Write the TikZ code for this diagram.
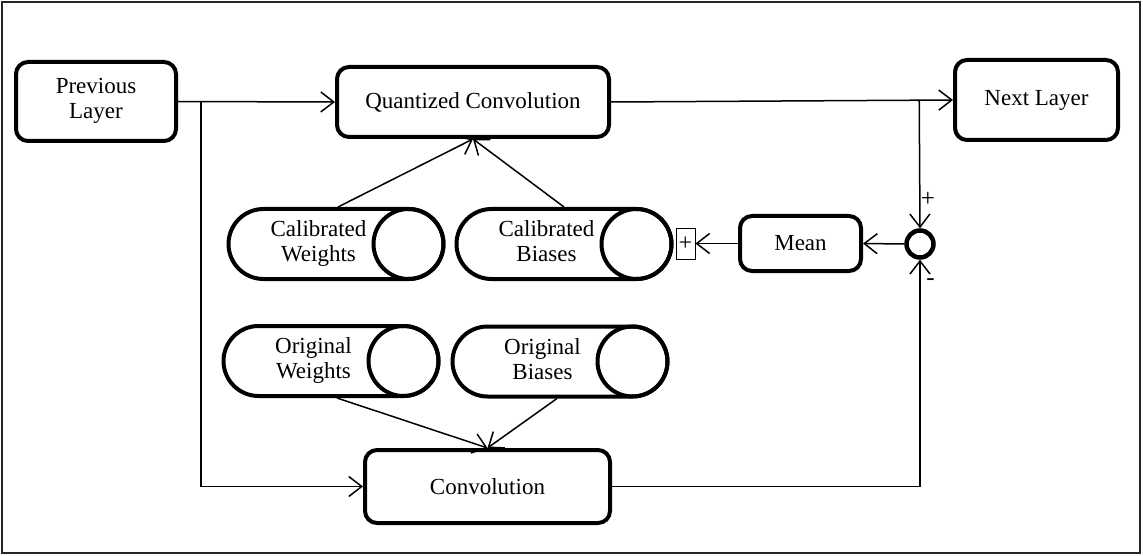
\documentclass[tikz,border=0pt]{standalone}
\usepackage{fontspec}
\setmainfont{Liberation Serif}
\usetikzlibrary{arrows.meta,shapes.misc,calc}
\newcommand{\twoline}[2]{\strut#1\\\strut#2}
\begin{document}
\begin{tikzpicture}[x=1pt,y=-1pt,
  box/.style={draw,line width=4pt,rounded corners=12pt,align=center,inner sep=0pt,font=\fontsize{23}{25}\selectfont},
  store/.style={draw,line width=4pt,rounded rectangle,minimum width=215pt,minimum height=70pt,inner sep=0pt},
  lbl/.style={align=center,inner sep=0pt,font=\fontsize{23}{25}\selectfont},
  arr/.style={line width=1.5pt,-{Straight Barb[length=13pt,width=20pt]}},
  sign/.style={inner sep=0pt,font=\fontsize{25}{27}\selectfont}]
\useasboundingbox (0,0) rectangle (1143,556);
\draw[line width=1.5pt,black!85] (2,2) rectangle (1140,553);

% boxes
\node[box,minimum width=160pt,minimum height=79pt] (prev) at (96,101.5) {\twoline{Previous}{Layer}};
\node[box,minimum width=272pt,minimum height=70pt] (qconv) at (473,102) {Quantized Convolution};
\node[box,minimum width=163pt,minimum height=80pt] (next) at (1036.5,100) {Next Layer};
\node[box,minimum width=121pt,minimum height=55pt] (mean) at (800.5,243.5) {Mean};
\node[box,minimum width=245pt,minimum height=73pt] (conv) at (487.5,486.5) {Convolution};
\node[draw,circle,line width=4.5pt,minimum size=27pt,inner sep=0pt] (sum) at (920,244) {};
\node[draw,line width=0.8pt,minimum width=19pt,minimum height=31pt,inner sep=0pt,font=\fontsize{24}{26}\selectfont] (pbox) at (685.5,243.5) {+};

% stores
\node[store] (cw) at (336,244) {};
\node[store] (cb) at (564,244) {};
\node[store] (ow) at (331,361) {};
\node[store] (ob) at (560,361.5) {};
\foreach \s in {cw,cb,ow,ob}{
  \draw[line width=4pt] ($(\s.center)+(72.5,0)$) circle[radius=35pt];
}
\node[lbl] (cwt) at ($(cw.center)+(-17.5,0)$) {\twoline{Calibrated}{Weights}};
\node[lbl] (cbt) at ($(cb.center)+(-17.5,0)$) {\twoline{Calibrated}{Biases}};
\node[lbl] (owt) at ($(ow.center)+(-17.5,0)$) {\twoline{Original}{Weights}};
\node[lbl] (obt) at ($(ob.center)+(-17.5,0)$) {\twoline{Original}{Biases}};

% signs
\node[sign] (splus) at (928,199) {+};
\node[sign] (sminus) at (930.5,282) {-};

% connectors
\draw[arr] (prev.east) -- (qconv.west);
\coordinate (b1) at ([xshift=23pt]prev.east);
\draw[arr] (b1) |- (conv.west);
\draw[arr] (qconv.east) -- (next.west);
\coordinate (b2) at ($(qconv.east)!(sum.north)!(next.west)$);
\draw[arr] (b2) -- (sum.north);
\draw[arr] (conv.east) -| (sum.south);
\draw[arr] (sum.west) -- (mean.east);
\draw[arr] (mean.west) -- (pbox.east);
\draw[arr] ([xshift=2pt]cw.north) -- (qconv.south);
\draw[arr] (cb.north) -- (qconv.south);
\draw[arr] ([xshift=6pt]ow.south) -- (conv.north);
\draw[arr] ([xshift=-3pt]ob.south) -- (conv.north);
\end{tikzpicture}
\end{document}
